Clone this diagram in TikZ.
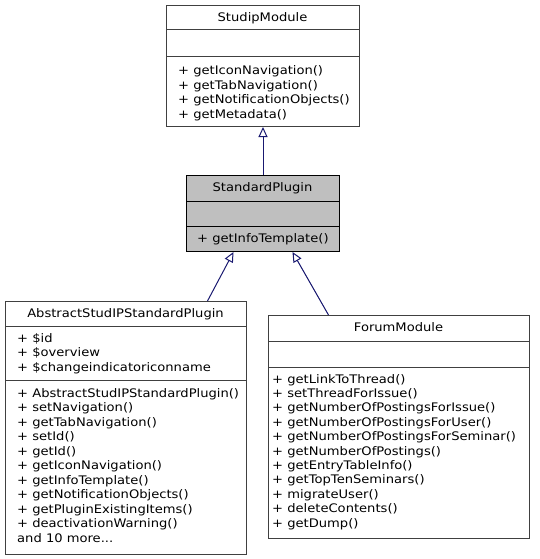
\documentclass[tikz,border=0pt]{standalone}
\usepackage{fontspec}
\setmainfont[FakeStretch=1.11]{DejaVu Sans}
\usetikzlibrary{arrows.meta}
\definecolor{edgeblue}{HTML}{191970}
\definecolor{boxgray}{HTML}{404040}
\definecolor{hlfill}{HTML}{BFBFBF}
\begin{document}
\begin{tikzpicture}[x=1pt,y=-1pt,
  classbox/.style={draw=boxgray, fill=white, line width=1pt, inner sep=0pt, anchor=north west},
  hlbox/.style={classbox, draw=black, fill=hlfill},
  divider/.style={draw=boxgray, line width=1pt},
  hldivider/.style={draw=black, line width=1pt},
  txt/.style={inner sep=0pt, anchor=base west, font=\fontsize{11.8}{14}\selectfont},
  ttl/.style={inner sep=0pt, anchor=base, font=\fontsize{11.8}{14}\selectfont},
  inherit/.style={draw=edgeblue, line width=1pt, -{Triangle[open, length=10pt, width=9pt]}}
]
\useasboundingbox (0,0) rectangle (539,559);

% StudipModule
\node[classbox, minimum width=193pt, minimum height=121pt] (studip) at (166,5) {};
\draw[divider] (166,30) -- (359,30);
\draw[divider] (166,57) -- (359,57);
\node[ttl] (studipT) at (262.5,22) {StudipModule};
\node[txt] (s1) at (178,75) {+ getIconNavigation()};
\node[txt] (s2) at (178,89.4) {+ getTabNavigation()};
\node[txt] (s3) at (178,103.8) {+ getNotificationObjects()};
\node[txt] (s4) at (178,118.2) {+ getMetadata()};

% StandardPlugin
\node[hlbox, minimum width=153pt, minimum height=76pt] (sp) at (186,175) {};
\draw[hldivider] (186,201) -- (339,201);
\draw[hldivider] (186,226) -- (339,226);
\node[ttl] (spT) at (262.5,191) {StandardPlugin};
\node[txt] (p1) at (197,242) {+ getInfoTemplate()};

% AbstractStudIPStandardPlugin
\node[classbox, minimum width=241pt, minimum height=253pt] (abs) at (5,301) {};
\draw[divider] (5,326) -- (246,326);
\draw[divider] (5,380) -- (246,380);
\node[ttl] (absT) at (125.5,317) {AbstractStudIPStandardPlugin};
\node[txt] (a1) at (17,342) {+ \$id};
\node[txt] (a2) at (17,356.5) {+ \$overview};
\node[txt] (a3) at (17,371) {+ \$changeindicatoriconname};
\node[txt] (m1) at (17,397) {+ AbstractStudIPStandardPlugin()};
\node[txt] (m2) at (17,411.5) {+ setNavigation()};
\node[txt] (m3) at (17,426) {+ getTabNavigation()};
\node[txt] (m4) at (17,440.5) {+ setId()};
\node[txt] (m5) at (17,455) {+ getId()};
\node[txt] (m6) at (17,469.5) {+ getIconNavigation()};
\node[txt] (m7) at (17,484) {+ getInfoTemplate()};
\node[txt] (m8) at (17,498.5) {+ getNotificationObjects()};
\node[txt] (m9) at (17,513) {+ getPluginExistingItems()};
\node[txt] (m10) at (17,527.5) {+ deactivationWarning()};
\node[txt] (m11) at (17,542) {and 10 more...};

% ForumModule
\node[classbox, minimum width=261pt, minimum height=223pt] (forum) at (268,315) {};
\draw[divider] (268,341) -- (529,341);
\draw[divider] (268,367) -- (529,367);
\node[ttl] (forumT) at (398.5,331) {ForumModule};
\node[txt] (f1) at (272,383) {+ getLinkToThread()};
\node[txt] (f2) at (272,397.4) {+ setThreadForIssue()};
\node[txt] (f3) at (272,411.8) {+ getNumberOfPostingsForIssue()};
\node[txt] (f4) at (272,426.2) {+ getNumberOfPostingsForUser()};
\node[txt] (f5) at (272,440.6) {+ getNumberOfPostingsForSeminar()};
\node[txt] (f6) at (272,455) {+ getNumberOfPostings()};
\node[txt] (f7) at (272,469.4) {+ getEntryTableInfo()};
\node[txt] (f8) at (272,483.8) {+ getTopTenSeminars()};
\node[txt] (f9) at (272,498.2) {+ migrateUser()};
\node[txt] (f10) at (272,512.6) {+ deleteContents()};
\node[txt] (f11) at (272,527) {+ getDump()};

% inheritance
\draw[inherit] (sp.north) -- (studip.south);
\draw[inherit] ([xshift=81.5pt]abs.north) -- ([xshift=-29.5pt]sp.south);
\draw[inherit] ([xshift=-70.5pt]forum.north) -- ([xshift=29.5pt]sp.south);
\end{tikzpicture}
\end{document}
